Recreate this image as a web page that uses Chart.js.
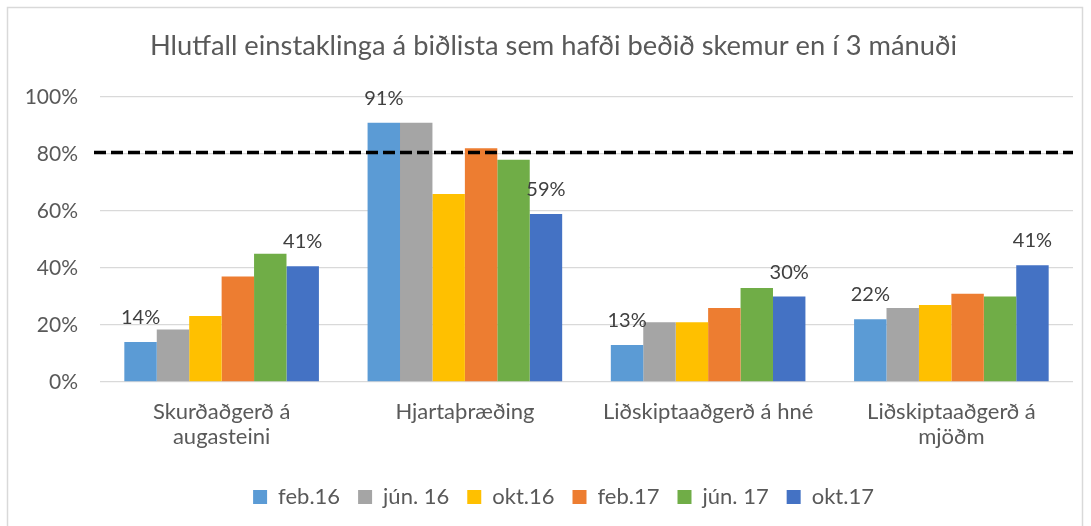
<!DOCTYPE html>
<html>
<head>
<meta charset="utf-8">
<script src="https://cdn.jsdelivr.net/npm/chart.js@4"></script>
<style>
  html, body { margin: 0; padding: 0; background: #ffffff; }
  #wrap { width: 1091px; height: 526px; position: relative; }
</style>
</head>
<body>
<div id="wrap"><canvas id="c" width="1091" height="526"></canvas></div>
<script>
// ---- data ----
const chartTitle = 'Hlutfall einstaklinga á biðlista sem hafði beðið skemur en í 3 mánuði';
const categories = [['Skurðaðgerð á', 'augasteini'], 'Hjartaþræðing', 'Liðskiptaaðgerð á hné', ['Liðskiptaaðgerð á', 'mjöðm']];
const seriesNames = ['feb.16', 'jún. 16', 'okt.16', 'feb.17', 'jún. 17', 'okt.17'];
const feb16 = [14, 91, 13, 22];
const jun16 = [18.4, 91, 21, 26];
const okt16 = [23.2, 66, 21, 27];
const feb17 = [37, 82, 26, 31];
const jun17 = [45, 78, 33, 30];
const okt17 = [40.6, 59, 30, 41];
const targetLevel = 80.5;
const yTickValues = [0, 20, 40, 60, 80, 100];
const labelledSeries = ['feb.16', 'okt.17'];

// ---- styles ----
const seriesValues = [feb16, jun16, okt16, feb17, jun17, okt17];
const seriesColors = ['#5B9BD5', '#A5A5A5', '#FFC000', '#ED7D31', '#70AD47', '#4472C4'];
const FONT = 'Lato, "Open Sans", sans-serif';

const datasets = seriesNames.map((name, i) => ({
  label: name,
  data: seriesValues[i],
  backgroundColor: seriesColors[i],
  borderWidth: 0
}));

const frame = {
  id: 'frame',
  beforeDraw(chart) {
    const ctx = chart.ctx;
    ctx.save();
    ctx.fillStyle = '#ffffff';
    ctx.fillRect(0, 0, chart.width, chart.height);
    ctx.strokeStyle = '#D9D9D9';
    ctx.lineWidth = 1.5;
    ctx.strokeRect(7.5, 7.5, 1075, 530);
    ctx.restore();
  }
};

// the original chart frame is wider than the visible crop: centre title & legend accordingly
const shiftBlocks = {
  id: 'shiftBlocks',
  afterLayout(chart) {
    if (chart.titleBlock) { chart.titleBlock.left += 17; chart.titleBlock.right += 17; }
    if (chart.legend) { chart.legend.left += 27; chart.legend.right += 27; }
  }
};

const targetLine = {
  id: 'targetLine',
  afterDatasetsDraw(chart) {
    const ctx = chart.ctx;
    const y = chart.scales.y.getPixelForValue(targetLevel);
    const area = chart.chartArea;
    ctx.save();
    ctx.strokeStyle = '#000000';
    ctx.lineWidth = 3.5;
    ctx.setLineDash([12, 5]);
    ctx.lineCap = 'butt';
    ctx.beginPath();
    ctx.moveTo(area.left - 6, y);
    ctx.lineTo(area.right, y);
    ctx.stroke();
    ctx.restore();
  }
};

const valueLabels = {
  id: 'valueLabels',
  afterDatasetsDraw(chart) {
    const ctx = chart.ctx;
    ctx.save();
    ctx.font = '20px ' + FONT;
    ctx.fillStyle = '#404040';
    ctx.textAlign = 'center';
    ctx.textBaseline = 'alphabetic';
    chart.data.datasets.forEach((ds, di) => {
      if (!labelledSeries.includes(ds.label)) return;
      const meta = chart.getDatasetMeta(di);
      meta.data.forEach((bar, j) => {
        ctx.fillText(Math.round(ds.data[j]) + '%', bar.x, bar.y - 18);
      });
    });
    ctx.restore();
  }
};

new Chart(document.getElementById('c'), {
  type: 'bar',
  data: { labels: categories, datasets },
  plugins: [frame, shiftBlocks, targetLine, valueLabels],
  options: {
    responsive: false,
    animation: false,
    datasets: { bar: { categoryPercentage: 0.8, barPercentage: 1.0 } },
    layout: { padding: { left: 0, right: 18, top: 0, bottom: 8 } },
    plugins: {
      title: {
        display: true,
        text: chartTitle,
        color: '#595959',
        font: { family: FONT, size: 27.3, weight: 'normal', lineHeight: 1.2 },
        padding: { top: 30, bottom: 34.3 }
      },
      legend: {
        position: 'bottom',
        labels: {
          color: '#595959',
          font: { family: FONT, size: 22 },
          boxWidth: 14,
          boxHeight: 14,
          padding: 18
        }
      },
      tooltip: { enabled: false }
    },
    scales: {
      x: {
        afterFit: (scale) => { scale.height = 86; },
        grid: { display: false, drawTicks: false },
        border: { display: false },
        ticks: { color: '#595959', font: { family: FONT, size: 22, lineHeight: 1.15 }, padding: 17, maxRotation: 0 }
      },
      y: {
        min: 0,
        max: 100,
        afterBuildTicks: (scale) => { scale.ticks = yTickValues.map(v => ({ value: v })); },
        afterFit: (scale) => { scale.width = 100; },
        grid: { color: '#D9D9D9', lineWidth: 1.3, drawTicks: false },
        border: { display: false },
        ticks: { color: '#595959', font: { family: FONT, size: 21 }, padding: 22, callback: (v) => v + '%' }
      }
    }
  }
});
</script>
</body>
</html>
